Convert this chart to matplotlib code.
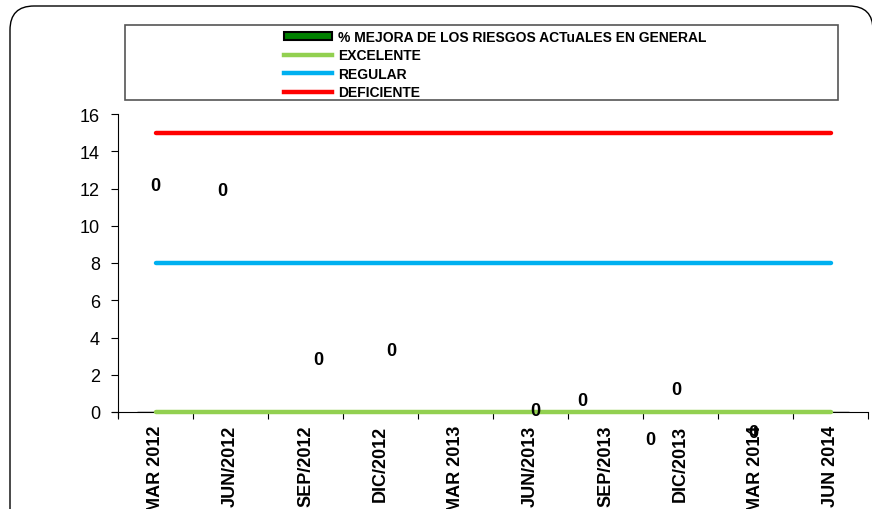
import matplotlib
matplotlib.use("Agg")
import matplotlib.pyplot as plt
from matplotlib.patches import Patch, Rectangle, FancyBboxPatch
from matplotlib.lines import Line2D
import numpy as np

plt.rcParams['font.family'] = ['Liberation Sans', 'DejaVu Sans']

# ---- data ----
categories = ["MAR 2012", "JUN/2012", "SEP/2012", "DIC/2012", "MAR 2013",
              "JUN/2013", "SEP/2013", "DIC/2013", "MAR 2014", "JUN 2014"]
mejora = [0, 0, 0, 0, 0, 0, 0, 0, 0, 0]
excelente = [0] * 10
regular = [8] * 10
deficiente = [15] * 10
series_names = ["% MEJORA DE LOS RIESGOS ACTuALES EN GENERAL",
                "EXCELENTE", "REGULAR", "DEFICIENTE"]
y_ticks = [0, 2, 4, 6, 8, 10, 12, 14, 16]

# data-label anchors (category position, y) as displayed in the original
label_anchor_x = [0.0, 0.89, 2.17, 3.15, 5.06, 5.69, 6.6, 6.95, 7.97]
label_anchor_y = [12.15, 11.9, 2.8, 3.3, 0.1, 0.6, -1.45, 1.2, -1.1]

W, H = 872, 510
fig = plt.figure(figsize=(W / 100, H / 100), dpi=100)

def fx(px):
    return px / W

def fy(py):
    return 1 - py / H

# rounded outer border (inches, equal aspect)
border = FancyBboxPatch((0.10, -0.5), 8.63, 5.03 + 0.5,
                        boxstyle="round,pad=0,rounding_size=0.24",
                        transform=fig.dpi_scale_trans, facecolor="none",
                        edgecolor="black", linewidth=1.0, zorder=0)
fig.patches.append(border)

ax = fig.add_axes([fx(118), fy(413), fx(750), 298 / H])
ax.set_zorder(3)
ax.set_facecolor("none")
x = np.arange(len(categories))

ax.bar(x, mejora, width=0.5, color="#008000", edgecolor="black")
lw = 3.2
for vals, col in [(excelente, "#92D050"), (regular, "#00B0F0"),
                  (deficiente, "#FF0000")]:
    ax.plot(x, vals, color=col, lw=lw, solid_capstyle="round", zorder=4,
            clip_on=False)

for lx, ly, v in zip(label_anchor_x, label_anchor_y, mejora):
    ax.text(lx, ly, f"{v}", ha="center", va="center", fontsize=13,
            fontweight="bold", color="black", zorder=5, clip_on=False)

ax.set_xlim(-0.5, len(categories) - 0.5)
ax.set_ylim(0, 16)
ax.set_yticks(y_ticks)
ax.tick_params(axis="y", labelsize=13, direction="out", length=5,
               width=0.8, pad=8, colors="black")

ax.set_xticks(np.arange(len(categories) + 1) - 0.5)
ax.set_xticklabels([])
ax.set_xticks(x, minor=True)
ax.set_xticklabels(categories, minor=True, rotation=90, fontsize=13,
                   fontweight="bold")
ax.tick_params(axis="x", which="major", direction="out", length=5, width=0.8)
ax.tick_params(axis="x", which="minor", length=0, pad=9)

for s in ["top", "right"]:
    ax.spines[s].set_visible(False)
ax.spines["left"].set_linewidth(0.8)
ax.spines["left"].set_color("black")
ax.spines["left"].set_bounds(-0.25, 16)
ax.spines["bottom"].set_visible(False)
ax.axhline(0, xmin=-0.008, xmax=1.0, color="black", lw=0.8, zorder=2,
           clip_on=False)

# legend box
fig.patches.append(Rectangle((fx(125), fy(101)), fx(713), 75 / H,
                             transform=fig.transFigure, facecolor="white",
                             edgecolor="#555555", linewidth=1.2, zorder=1))
handles = [
    Patch(facecolor="#008000", edgecolor="black", linewidth=1.5),
    Line2D([], [], color="#92D050", lw=lw),
    Line2D([], [], color="#00B0F0", lw=lw),
    Line2D([], [], color="#FF0000", lw=lw),
]
leg = fig.legend(handles, series_names, loc="upper left",
                 bbox_to_anchor=(fx(274), fy(21)), frameon=False,
                 prop={"weight": "bold", "size": 10}, handlelength=3.5,
                 handleheight=0.55, handletextpad=0.4, labelspacing=0.32,
                 borderpad=0.2)
leg.set_zorder(2)

fig.savefig("out.png", dpi=100)
